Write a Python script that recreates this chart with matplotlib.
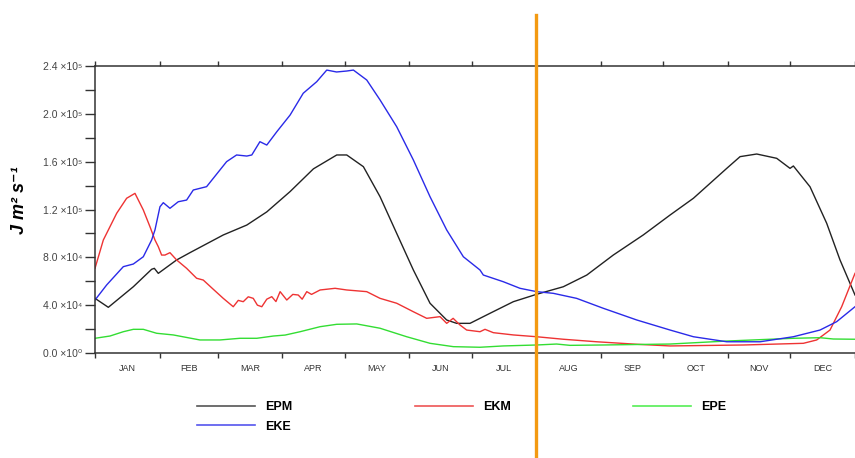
import numpy as np
import matplotlib
matplotlib.use('Agg')
import matplotlib.pyplot as plt
from matplotlib.lines import Line2D

plt.rcParams['font.family'] = ['Liberation Sans', 'DejaVu Sans']

# day of year, energy in units of 1e4 J m2 s-1
epm_day = [0, 6.4, 18.4, 27.2, 28.5, 30.4, 39.2, 45.6, 61.6, 72.9, 82.5, 93.7, 104.9,
           116.1, 120.9, 128.9, 136.9, 144.9, 152.9, 160.9, 168.9, 173.7, 180.1, 184.9,
           189.7, 200.9, 212.1, 224.9, 236.2, 248.9, 263.3, 276.2, 287.4, 303.4, 309.8,
           317.8, 327.4, 333.8, 335.4, 343.4, 351.4, 357.8, 365]
epm_val = [4.57, 3.82, 5.54, 7.0, 7.08, 6.66, 7.78, 8.39, 9.87, 10.7, 11.8, 13.5, 15.4,
           16.56, 16.56, 15.58, 13.07, 10.0, 6.94, 4.16, 2.76, 2.48, 2.48, 2.9,
           3.32, 4.29, 4.91, 5.54, 6.52, 8.19, 9.87, 11.54, 12.94, 15.44, 16.42,
           16.64, 16.28, 15.44, 15.64, 13.9, 10.85, 7.78, 4.85]

eke_day = [0, 5.6, 13.6, 18.4, 23.2, 27.2, 28.8, 31.2, 32.8, 36.0, 40.0, 44.0, 47.2,
           53.6, 63.2, 68.0, 72.9, 75.3, 79.2, 82.5, 87.3, 93.7, 100.0, 106.5, 111.3,
           116.0, 120.9, 124.1, 130.5, 136.9, 144.9, 152.9, 160.9, 168.9, 176.9, 184.9,
           186.5, 196.1, 204.1, 212.1, 220.1, 231.3, 244.1, 260.2, 276.2, 287.4, 303.4,
           319.4, 335.4, 348.2, 356.2, 365]
eke_val = [4.43, 5.69, 7.22, 7.44, 8.05, 9.45, 10.29, 12.23, 12.57, 12.1, 12.65, 12.79, 13.63,
           13.91, 16.0, 16.56, 16.47, 16.56, 17.67, 17.39, 18.5, 19.9, 21.72, 22.69, 23.66,
           23.5, 23.58, 23.66, 22.83, 21.16, 18.92, 16.14, 13.07, 10.29, 8.05, 6.94,
           6.52, 5.96, 5.41, 5.13, 4.99, 4.57, 3.74, 2.76, 1.92, 1.36, 0.94,
           0.94, 1.36, 1.92, 2.62, 3.87]

ekm_day = [0, 4.0, 10.4, 15.2, 19.2, 23.2, 26.4, 28.8, 30.4, 32.0, 33.6, 36.0, 39.2, 44.0,
           48.8, 52.0, 56.8, 61.6, 66.4, 68.8, 71.2, 73.6, 76.0, 78.0, 80.1, 82.5, 84.9,
           86.9, 88.9, 92.1, 95.0, 97.6, 99.5, 101.7, 104.0, 108.1, 115.3, 120.9, 130.5,
           136.9, 144.9, 152.9, 159.3, 165.7, 168.9, 172.0, 175.3, 178.5, 184.9, 187.3,
           191.3, 200.9, 212.1, 224.9, 240.9, 260.2, 276.2, 311.4, 340.2, 346.6, 353.0,
           358.6, 365]
ekm_val = [7.08, 9.45, 11.68, 12.94, 13.35, 11.96, 10.56, 9.45, 8.89, 8.19, 8.19, 8.39, 7.78, 7.08,
           6.25, 6.1, 5.33, 4.57, 3.87, 4.4, 4.29, 4.7, 4.57, 4.0, 3.87, 4.5, 4.71,
           4.3, 5.13, 4.43, 4.9, 4.85, 4.5, 5.13, 4.9, 5.27, 5.41, 5.27, 5.13,
           4.57, 4.16, 3.45, 2.9, 3.04, 2.48, 2.9, 2.34, 1.92, 1.78, 1.98,
           1.7, 1.51, 1.36, 1.15, 0.94, 0.73, 0.59, 0.67, 0.81, 1.09, 1.92,
           3.87, 6.66]

epe_day = [0, 7.2, 13.6, 18.4, 23.2, 29.6, 37.6, 50.4, 60.0, 69.6, 77.7, 85.7, 91.3,
           98.5, 108.1, 116.1, 125.7, 136.9, 149.7, 160.9, 172.1, 184.9, 196.1, 212.1,
           221.7, 228.1, 244.1, 276.2, 303.4, 335.4, 348.2, 354.6, 365]
epe_val = [1.23, 1.42, 1.78, 1.98, 1.98, 1.65, 1.51, 1.09, 1.09, 1.23, 1.23, 1.42, 1.5,
           1.78, 2.2, 2.4, 2.43, 2.07, 1.36, 0.81, 0.53, 0.48, 0.59, 0.67,
           0.75, 0.64, 0.67, 0.75, 1.0, 1.23, 1.28, 1.17, 1.15]

month_edges = [0, 31, 59, 90, 120, 151, 181, 212, 243, 273, 304, 334, 365]
month_names = ['JAN', 'FEB', 'MAR', 'APR', 'MAY', 'JUN', 'JUL', 'AUG', 'SEP', 'OCT', 'NOV', 'DEC']
ytick_vals = [0, 4, 8, 12, 16, 20, 24]
ytick_labels = ['0.0 ×10⁰', '4.0 ×10⁴', '8.0 ×10⁴', '1.2 ×10⁵', '1.6 ×10⁵', '2.0 ×10⁵', '2.4 ×10⁵']
marker_day = 212

fig = plt.figure(figsize=(8.55, 4.58), dpi=100)
ax = fig.add_axes([95 / 855, 105 / 458, 760 / 855, 287 / 458])

ax.plot(epm_day, epm_val, color='#222222', lw=1.0)
ax.plot(ekm_day, ekm_val, color='#ee3333', lw=1.0)
ax.plot(epe_day, epe_val, color='#33dd33', lw=1.0)
ax.plot(eke_day, eke_val, color='#2a2ae8', lw=1.0)

ax.axvline(marker_day, ymin=-0.366, ymax=1.178, color='#f39a12', lw=2.4, clip_on=False, zorder=5)

ax.set_xlim(0, 365)
ax.set_ylim(0, 24)

ax.spines['right'].set_visible(False)
for s in ['left', 'top', 'bottom']:
    ax.spines[s].set_color('#333333')
    ax.spines[s].set_linewidth(1.1)

ax.set_yticks(ytick_vals)
ax.set_yticklabels(ytick_labels, fontsize=7.5, color='#444444')
ax.set_yticks([2, 6, 10, 14, 18, 22], minor=True)
ax.tick_params(axis='y', which='both', direction='out', length=7, width=1, color='#333333', pad=2)

centers = [(month_edges[i] + month_edges[i + 1]) / 2 for i in range(12)]
ax.set_xticks(month_edges)
ax.set_xticklabels([])
ax.set_xticks(centers, minor=True)
ax.set_xticklabels(month_names, minor=True, fontsize=6.5, color='#333333')
ax.tick_params(axis='x', which='major', direction='out', length=3.5, width=1, color='#333333',
               top=True, bottom=True)
ax.tick_params(axis='x', which='minor', length=0, pad=8)

fig.text(20 / 855, 1 - 200 / 458, 'J m² s⁻¹', rotation=90, fontsize=13, fontweight='bold',
         style='italic', ha='center', va='center')

handles = [Line2D([], [], color='#555555', lw=1.2),
           Line2D([], [], color='#5555ee', lw=1.2),
           Line2D([], [], color='#ee5555', lw=1.2),
           Line2D([], [], color='#55ee55', lw=1.2)]
labels = ['EPM', 'EKE', 'EKM', 'EPE']
fig.legend(handles, labels, loc='upper left', bbox_to_anchor=(197 / 855, 1 - 401 / 458),
           ncol=3, frameon=False, borderpad=0, borderaxespad=0, handlelength=4.64,
           handletextpad=0.8, columnspacing=9.8, labelspacing=0.6,
           prop={'size': 9, 'weight': 'bold'})

plt.savefig('out.png', dpi=100)
